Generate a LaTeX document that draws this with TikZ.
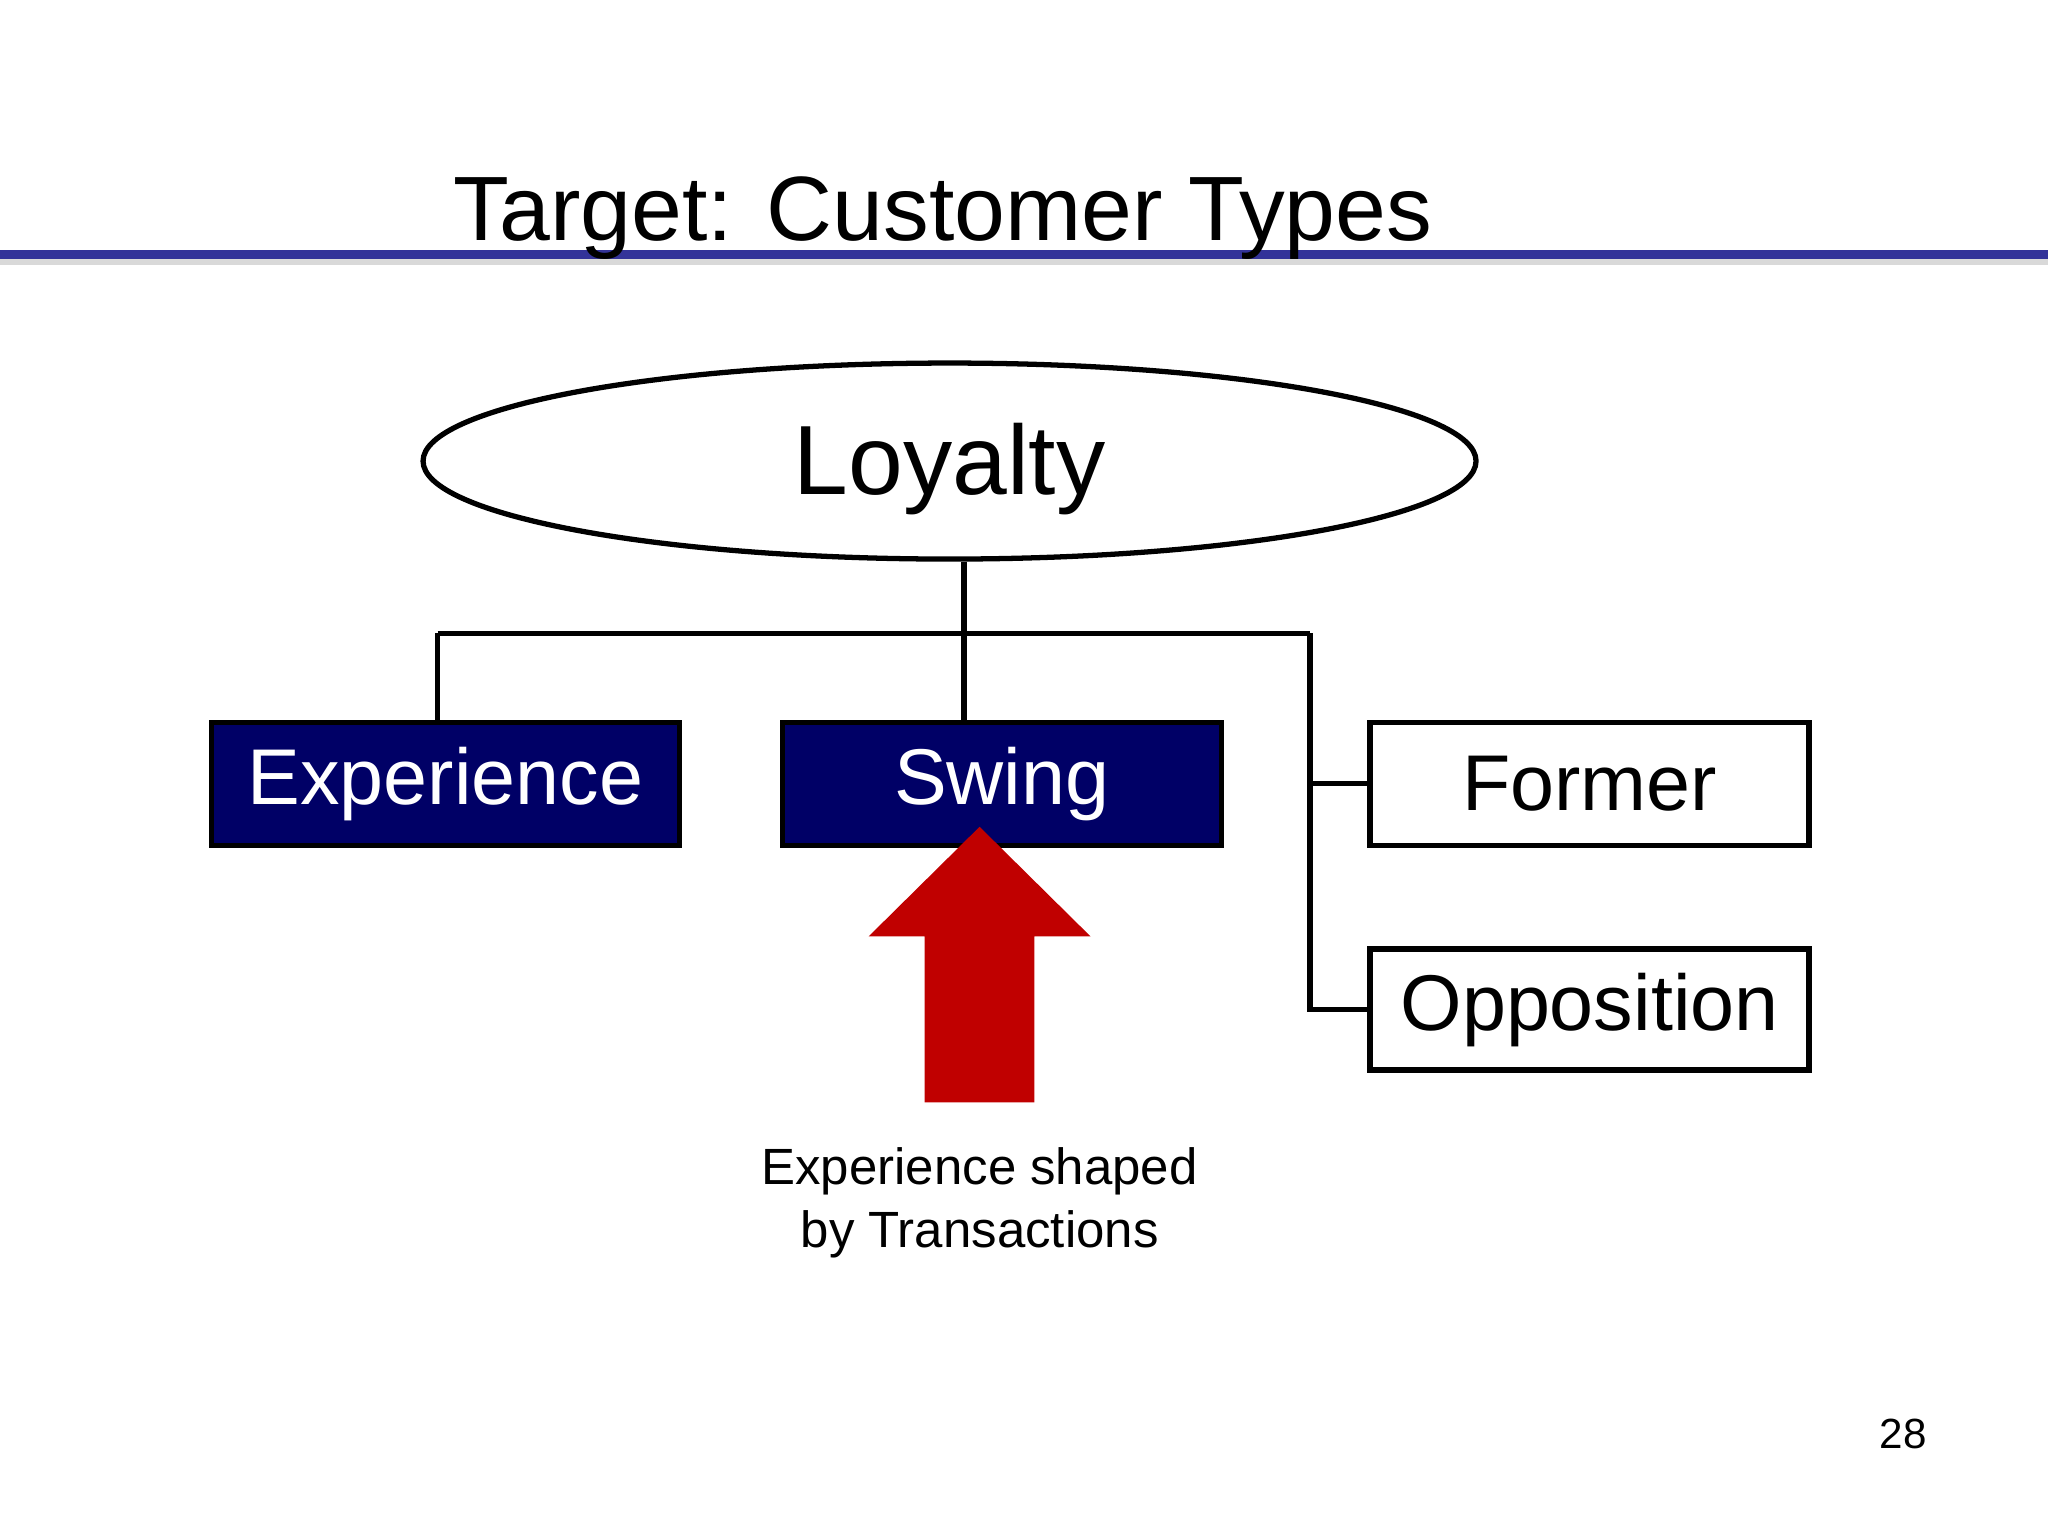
\documentclass[tikz,border=0pt]{standalone}
\usepackage{fontspec}
\setmainfont{Liberation Sans}
\usetikzlibrary{shapes.geometric}
\definecolor{navy}{HTML}{000066}
\definecolor{rule}{HTML}{333399}
\definecolor{arrowred}{HTML}{C00000}
\tikzset{
  box/.style={draw,line width=1.5pt,minimum width=4.39cm,minimum height=1.23cm,inner sep=0pt,font=\fontsize{22.5}{26}\selectfont},
  darkbox/.style={box,fill=navy,text=white},
  link/.style={line width=1.5pt}
}
\begin{document}
\begin{tikzpicture}[x=0.013061cm,y=-0.013061cm]
  \useasboundingbox (0,0) rectangle (1568,1176);
  % Rule and title
  \draw[gray!30,line width=3pt] (0,199) -- (1568,199);
  \draw[rule,line width=2.5pt] (0,195) -- (1568,195);
  \node[font=\fontsize{26}{30}\selectfont] (title) at (722,167) {Target: Customer Types};
  % Loyalty
  \node[draw,ellipse,line width=1.5pt,inner sep=0pt,
        minimum width=10.53cm,minimum height=1.96cm,font=\fontsize{28}{32}\selectfont] (loyalty) at (727,353) {};
  \node[font=\fontsize{28}{32}\selectfont] (loyaltytext) at (727,359) {Loyalty};
  % Customer types
  \node[darkbox,minimum width=4.68cm] (exp) at (341,600) {Experience};
  \node[darkbox] (swing) at (767,600) {Swing};
  \node[box] (former) at (1217,600) {Former};
  \node[box,minimum height=1.21cm] (opp) at (1217,773) {Opposition};
  % Tree
  \coordinate (hub) at (738,485);
  \coordinate (left) at (335,485);
  \coordinate (right) at (1003,485);
  \coordinate (fj) at (1003,600);
  \coordinate (oj) at (1003,773);
  \draw[link] (loyalty.south -| hub) -- (hub);
  \draw[link] (left) -- (right);
  \draw[link] (left) -- (left |- exp.north);
  \draw[link] (hub) -- (hub |- swing.north);
  \draw[link] (right) -- (oj) -- (opp.west);
  \draw[link] (fj) -- (former.west);
  % Red arrow
  \fill[arrowred] (750,633) -- (835,717) -- (792,717) -- (792,844) -- (708,844) -- (708,717) -- (665,717) -- cycle;
  \node[align=center,font=\fontsize{14.5}{18}\selectfont] (note) at (750,921) {Experience shaped\\by Transactions};
  \node[font=\fontsize{12}{14}\selectfont] (page) at (1457,1098) {28};
\end{tikzpicture}
\end{document}
